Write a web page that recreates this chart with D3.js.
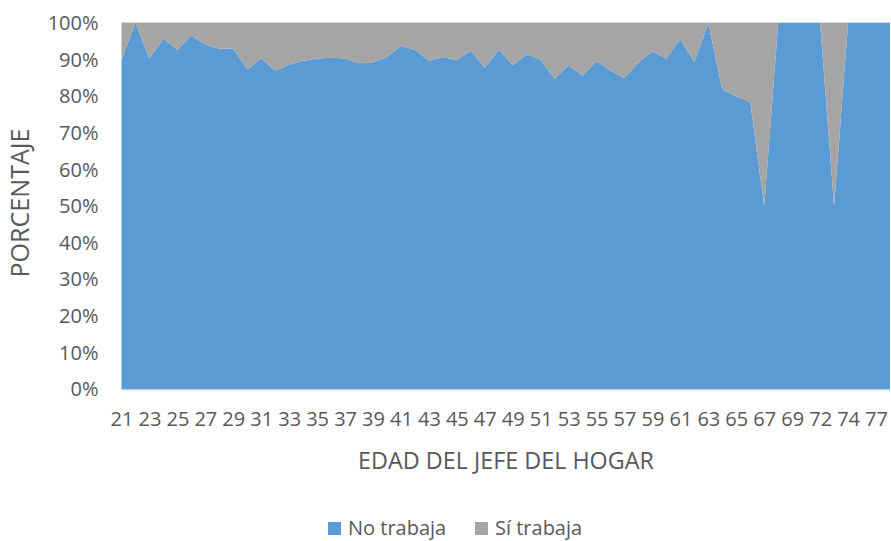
<!DOCTYPE html>
<html>
<head>
<meta charset="utf-8">
<script src="https://cdn.jsdelivr.net/npm/d3@7"></script>
<style>
  html, body { margin: 0; padding: 0; background: #ffffff; }
  svg { display: block; }
  text { font-family: "Open Sans", "Noto Sans", sans-serif; fill: #595959; }
</style>
</head>
<body>
<svg id="chart" width="891" height="541"></svg>
<script>
// ---- Data (percent of households, 100% stacked) ----
const ages = ["21","22","23","24","25","26","27","28","29","30","31","32","33","34","35","36","37","38","39","40",
  "41","42","43","44","45","46","47","48","49","50","51","52","53","54","55","56","57","58","59","60",
  "61","62","63","64","65","66","67","68","69","70","72","73","74","75","77","80"];
const noTrabaja = [90.0,100,90.3,95.7,92.7,96.6,94.1,93.0,93.0,87.3,90.4,87.0,88.6,89.7,90.3,90.5,90.3,89.0,89.2,90.7,
  93.8,92.7,89.7,90.7,89.9,92.4,87.8,92.7,88.5,91.5,90.0,84.8,88.4,85.6,89.6,87.0,85.0,89.2,92.2,90.3,
  95.7,89.3,100,81.8,80.0,78.4,50,100,100,100,100,50,100,100,100,100];
const siTrabaja = [10.0,0,9.7,4.3,7.3,3.4,5.9,7.0,7.0,12.7,9.6,13.0,11.4,10.3,9.7,9.5,9.7,11.0,10.8,9.3,
  6.2,7.3,10.3,9.3,10.1,7.6,12.2,7.3,11.5,8.5,10.0,15.2,11.6,14.4,10.4,13.0,15.0,10.8,7.8,9.7,
  4.3,10.7,0,18.2,20.0,21.6,50,0,0,0,0,50,0,0,0,0];
const seriesNames = ["No trabaja", "Sí trabaja"];
const seriesColors = ["#5B9BD5", "#A5A5A5"];
const yTicks = [0,0.1,0.2,0.3,0.4,0.5,0.6,0.7,0.8,0.9,1.0];
const xTickLabels = ages.filter((d, i) => i % 2 === 0);
const xTitle = "EDAD DEL JEFE DEL HOGAR";
const yTitle = "PORCENTAJE";

// ---- Layout ----
const svg = d3.select("#chart");
const plot = { left: 121.5, right: 890, top: 23, bottom: 389.5 };
const fontSize = 20;

const rows = ages.map((a, i) => {
  const tot = noTrabaja[i] + siTrabaja[i];
  return { age: a, no: noTrabaja[i] / tot, si: siTrabaja[i] / tot };
});
const stack = d3.stack().keys(["no", "si"]);
const layers = stack(rows);

const x = d3.scalePoint().domain(ages).range([plot.left, plot.right]);
const y = d3.scaleLinear().domain([0, 1]).range([plot.bottom, plot.top]);

// gridline at top (visible border)
svg.append("line")
  .attr("x1", plot.left).attr("x2", plot.right)
  .attr("y1", y(1) - 0.5).attr("y2", y(1) - 0.5)
  .attr("stroke", "#d9d9d9").attr("stroke-width", 1);

const area = d3.area()
  .x((d, i) => x(ages[i]))
  .y0(d => y(d[0]))
  .y1(d => y(d[1]));

svg.append("g").selectAll("path")
  .data(layers)
  .join("path")
  .attr("d", area)
  .attr("fill", (d, i) => seriesColors[i]);

// x axis line
svg.append("line")
  .attr("x1", plot.left).attr("x2", plot.right)
  .attr("y1", plot.bottom + 0.5).attr("y2", plot.bottom + 0.5)
  .attr("stroke", "#d9d9d9").attr("stroke-width", 1);

// Y axis
const yAxis = d3.axisLeft(y).tickValues(yTicks).tickFormat(d3.format(".0%")).tickSize(0).tickPadding(23);
const gy = svg.append("g").attr("transform", `translate(${plot.left},0)`).call(yAxis);
gy.select(".domain").remove();
gy.selectAll("text").attr("font-size", fontSize).attr("fill", "#595959")
  .style("font-family", '"Open Sans", sans-serif');

// X axis
const xAxis = d3.axisBottom(x).tickValues(xTickLabels).tickSize(0).tickPadding(22);
const gx = svg.append("g").attr("transform", `translate(0,${plot.bottom})`).call(xAxis);
gx.select(".domain").remove();
gx.selectAll("text").attr("font-size", fontSize).attr("fill", "#595959")
  .style("font-family", '"Open Sans", sans-serif');

// Axis titles
function fitText(sel, targetWidth) {
  const w = sel.node().getComputedTextLength();
  const fs = parseFloat(sel.attr("font-size"));
  sel.attr("font-size", fs * targetWidth / w);
}
const xt = svg.append("text")
  .attr("x", 506).attr("y", 469)
  .attr("text-anchor", "middle")
  .attr("font-size", fontSize)
  .text(xTitle);
fitText(xt, 296);

const yt = svg.append("text")
  .attr("transform", "translate(29,203) rotate(-90)")
  .attr("text-anchor", "middle")
  .attr("font-size", fontSize)
  .text(yTitle);
fitText(yt, 149);

// Legend
const legend = svg.append("g");
const legendItems = [
  { name: seriesNames[0], color: seriesColors[0], x: 328 },
  { name: seriesNames[1], color: seriesColors[1], x: 475 }
];
legendItems.forEach(it => {
  legend.append("rect").attr("x", it.x).attr("y", 522).attr("width", 13).attr("height", 13).attr("fill", it.color);
  legend.append("text").attr("x", it.x + 20).attr("y", 535).attr("font-size", fontSize).text(it.name);
});
</script>
</body>
</html>
